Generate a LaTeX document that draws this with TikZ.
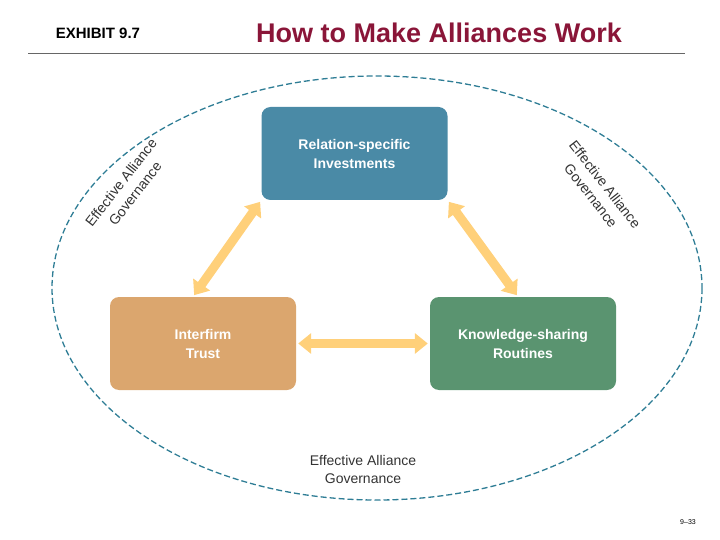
\documentclass[tikz,border=0pt]{standalone}
\usepackage{fontspec}
\setmainfont{Liberation Sans}
\usetikzlibrary{arrows.meta}
\definecolor{boxteal}{HTML}{4A8AA6}
\definecolor{boxtan}{HTML}{DBA66E}
\definecolor{boxgreen}{HTML}{5A9470}
\definecolor{linkyel}{HTML}{FFD07A}
\definecolor{titlered}{HTML}{8A1538}
\definecolor{rimteal}{HTML}{2E7D95}
\tikzset{
  block/.style={rounded corners=9pt, minimum width=186pt, minimum height=93pt,
    text=white, font=\bfseries\fontsize{14}{19}\selectfont, align=center},
  link/.style={draw=linkyel, line width=9pt, {Triangle[width=20pt,length=13pt]}-{Triangle[width=20pt,length=13pt]}, shorten <=2pt, shorten >=2pt},
  rim/.style={font=\fontsize{14}{18}\selectfont, text=black!80, align=center, inner sep=1pt}
}
\begin{document}
\begin{tikzpicture}[x=1pt,y=-1pt]
            \useasboundingbox (0,0) rectangle (720,540);
            \node[font=\bfseries\fontsize{15}{17}\selectfont] (exh) at (98,33) {EXHIBIT 9.7};
            \node[font=\bfseries\fontsize{27}{30}\selectfont, text=titlered] (ttl) at (439,33) {How to Make Alliances Work};
            \draw[black!60, line width=0.6pt] (28,53) -- (685,53);
            \draw[rimteal, line width=1.3pt, dash pattern=on 6pt off 3pt] (377,288) ellipse [x radius=325, y radius=212];
            \node[block, fill=boxteal] (rsi) at (354.5,153.5) {Relation-specific\\Investments};
            \node[block, fill=boxtan] (trust) at (203,343.5) {Interfirm\\Trust};
            \node[block, fill=boxgreen] (ksr) at (523,343.5) {Knowledge-sharing\\Routines};
            \draw[link] (rsi.south west) -- (trust.north west -| 193,0);
            \draw[link] (rsi.south east) -- (ksr.north west -| 518,0);
            \draw[link] (trust) -- (ksr);
            \node[rim, rotate=52] (govl) at (128,188) {Effective Alliance\\Governance};
            \node[rim, rotate=-52] (govr) at (598,190) {Effective Alliance\\Governance};
            \node[rim] (govb) at (363,469) {Effective Alliance\\Governance};
            \node[font=\fontsize{7}{8}\selectfont] (pg) at (688,522) {9–33};
          \end{tikzpicture}
\end{document}
